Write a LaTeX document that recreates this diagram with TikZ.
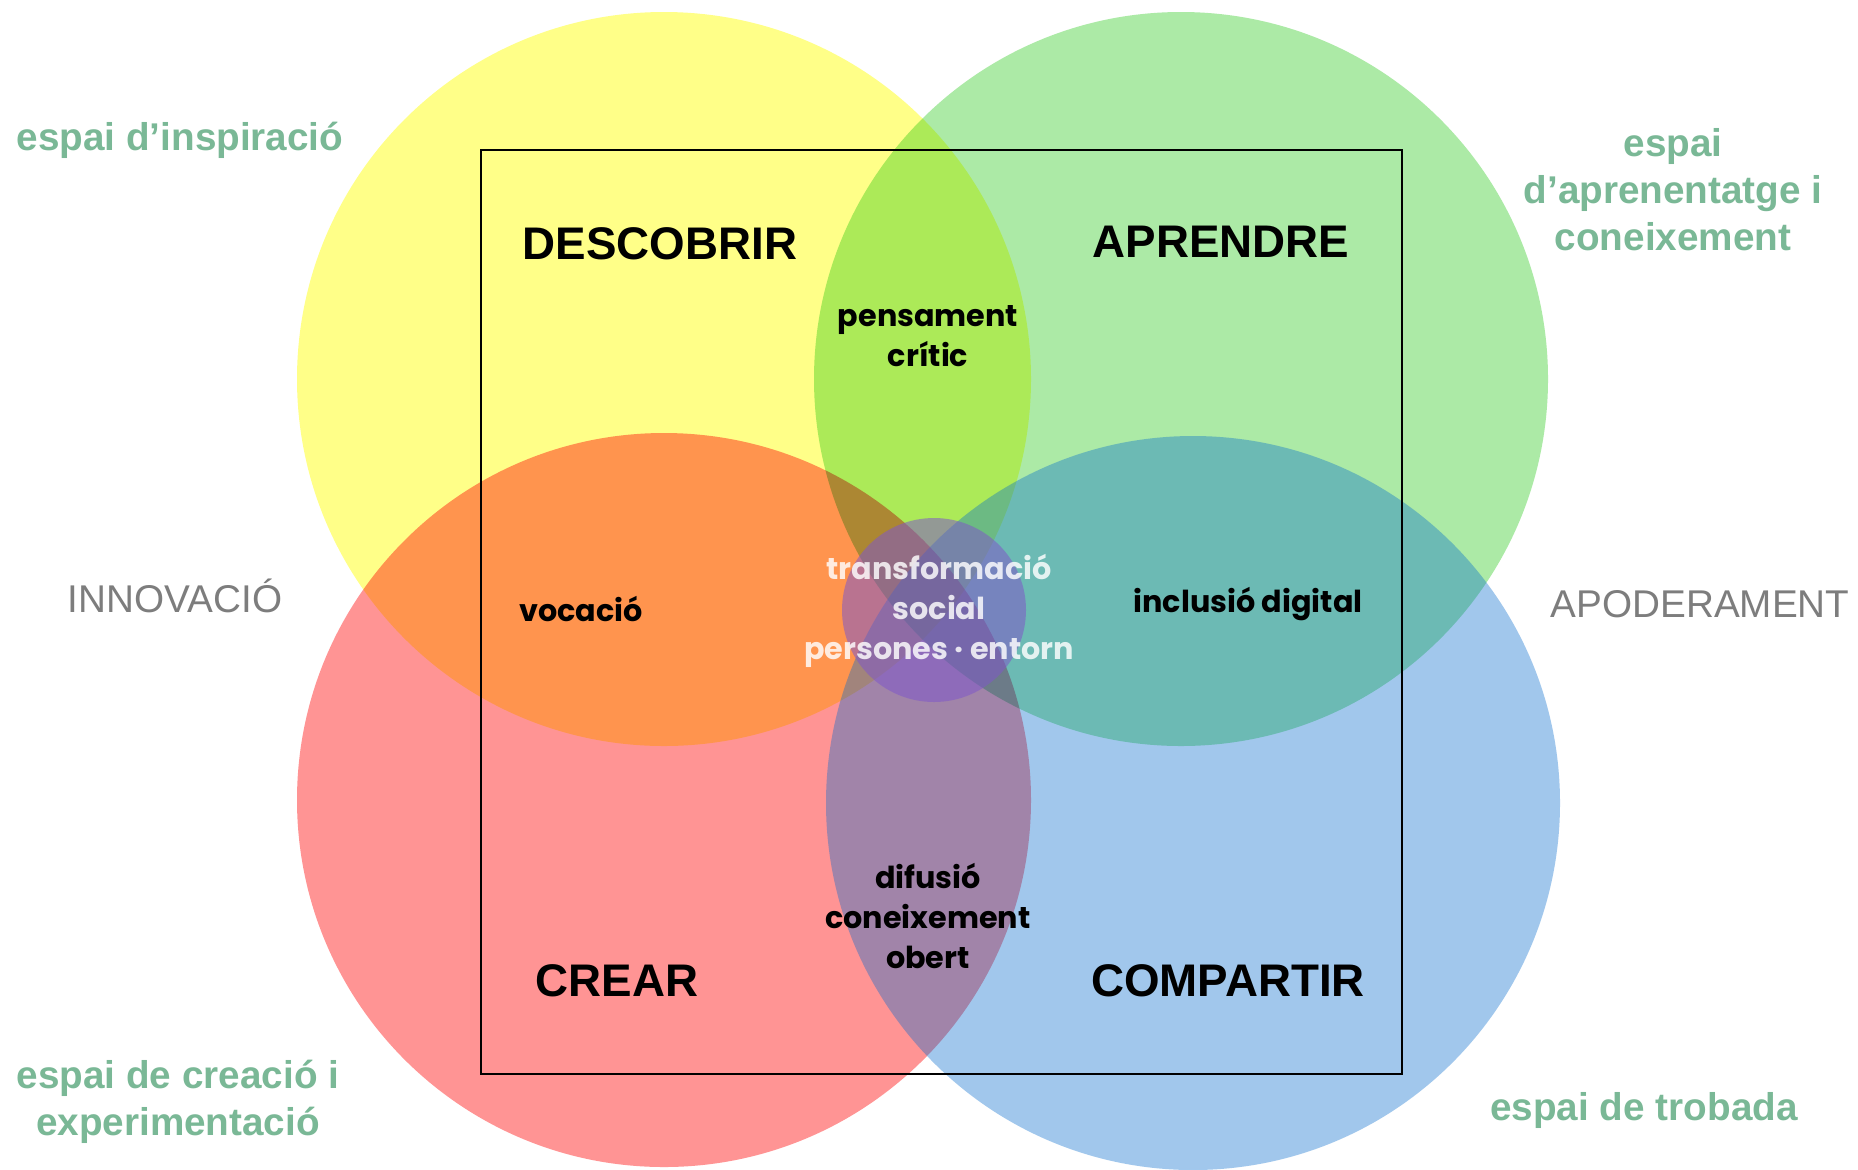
\documentclass[tikz,border=0pt]{standalone}
\usepackage{fontspec}
\setmainfont{Liberation Sans}
\newfontfamily\gothic{Poppins}
\usetikzlibrary{positioning}

\definecolor{venyellow}{RGB}{255,255,136}
\definecolor{vengreen}{RGB}{172,234,166}
\definecolor{venred}{RGB}{255,148,148}
\definecolor{venblue}{RGB}{0,105,205}
\definecolor{venpurple}{RGB}{128,88,200}
\definecolor{spacegreen}{RGB}{122,184,150}
\definecolor{axisgray}{RGB}{125,125,125}

\begin{document}
\begin{tikzpicture}[x=0.01cm,y=-0.01cm,
                    heading/.style={font=\bfseries\fontsize{13}{15}\selectfont},
                    space/.style={text=spacegreen,align=center,
                            font=\bfseries\fontsize{11}{13.4}\selectfont},
                    axis/.style={text=axisgray,font=\fontsize{11}{13}\selectfont},
                    lbl/.style={align=center,font=\gothic\bfseries\fontsize{8.6}{11.4}\selectfont}]

                    \useasboundingbox (0,0) rectangle (1858,1169);
                    \fill[white] (0,0) rectangle (1858,1169);

                    % the four circles
                    \begin{scope}[blend group=multiply]
                    \fill[venyellow] (664,379) circle (367);
                    \fill[vengreen] (1181,379) circle (367);
                    \fill[venred] (664,800) circle (367);
                    \end{scope}
                    \fill[venblue,fill opacity=.37] (1193,803) circle (367);
                    \fill[venpurple,fill opacity=.55] (934,610) circle (92);

                    \draw[line width=.5pt] (481,150) rectangle (1402,1074);

                    % headings
                    \node[heading] (descobrir) at (660,244) {DESCOBRIR};
                    \node[heading] (aprendre) at (1221,242) {APRENDRE};
                    \node[heading] (crear) at (617,981) {CREAR};
                    \node[heading] (compartir) at (1228,981) {COMPARTIR};

                    % overlaps
                    \node[lbl] (critic) at (928,336) {pensament\\crític};
                    \node[lbl] (vocacio) at (581,609) {vocació};
                    \node[lbl] (inclusio) at (1248,604) {inclusió digital};
                    \node[lbl] (difusio) at (928,916) {difusió\\coneixement\\obert};
                    \node[lbl,text=white,text opacity=.82] (social) at (939,611)
                        {transformació\\social\\persones · entorn};

                    % outside
                    \node[space] (inspiracio) at (180,140) {espai d’inspiració};
                    \node[space] (aprenentatge) at (1673,190) {espai\\d’aprenentatge i\\coneixement};
                    \node[space] (creacio) at (178,1102) {espai de creació i\\experimentació};
                    \node[space] (trobada) at (1644,1110) {espai de trobada};
                    \node[axis] (innovacio) at (175,596) {INNOVACIÓ};
                    \node[axis] (apoderament) at (1700,604) {APODERAMENT};
                \end{tikzpicture}
\end{document}
